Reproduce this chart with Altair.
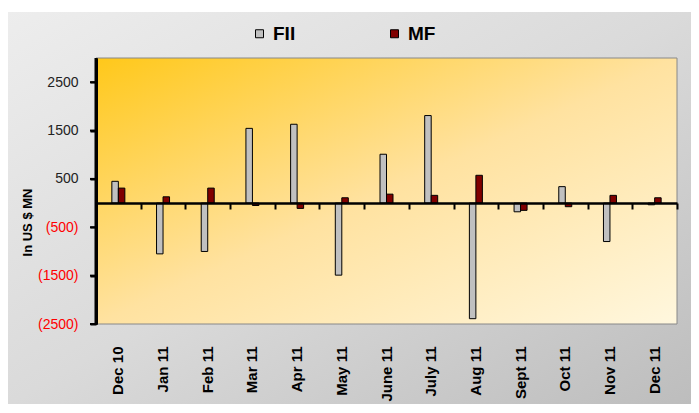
import altair as alt
import pandas as pd

months = ["Dec 10", "Jan 11", "Feb 11", "Mar 11", "Apr 11", "May 11", "June 11",
          "July 11", "Aug 11", "Sept 11", "Oct 11", "Nov 11", "Dec 11"]
fii = [450, -1050, -1000, 1545, 1630, -1490, 1010, 1810, -2390, -180, 340, -795, -35]
mf = [310, 130, 310, -50, -110, 110, 185, 160, 575, -150, -75, 160, 110]
series = ["FII", "MF"]
colors = ["#C0C0C0", "#800000"]
y_ticks = [-2500, -1500, -500, 500, 1500, 2500]
y_domain = [-2500, 3000]

rows = []
for m, a, b in zip(months, fii, mf):
    rows.append({"month": m, "series": "FII", "value": a})
    rows.append({"month": m, "series": "MF", "value": b})
df = pd.DataFrame(rows)
ticks_df = pd.DataFrame({"value": y_ticks})

W, H = 581, 266
FONT = "Liberation Sans"
zero_offset = -round(H * (0 - y_domain[0]) / (y_domain[1] - y_domain[0]))
band = W / len(months)
bar_w = 6.5

x_scale = alt.Scale(domain=months, paddingInner=0, paddingOuter=0)
y_scale = alt.Scale(domain=y_domain, nice=False, zero=False)

y_axis = alt.Axis(values=y_ticks,
                  labelExpr="datum.value < 0 ? '(' + format(-datum.value, 'd') + ')' : format(datum.value, 'd')",
                  labelColor={"condition": {"test": "datum.value < 0", "value": "#FF0000"}, "value": "#222222"},
                  labelFont=FONT, labelFontSize=14, labelPadding=12,
                  domain=True, ticks=True,
                  tickSize=6, tickColor="black", tickWidth=2,
                  domainColor="black", domainWidth=3, grid=False,
                  title="In US $ MN", titleFont=FONT, titleFontSize=13,
                  titleFontWeight="bold", titleColor="black", titleAngle=-90,
                  titleX=-69, titleY=164, titleAlign="center",
                  titleBaseline="middle", zindex=3, orient="left")

one = pd.DataFrame({"a": [0]})

outer_bg = alt.Chart(one).mark_rect(
    color=alt.LinearGradient(
        gradient="linear",
        stops=[alt.GradientStop(color="#EDEDED", offset=0),
               alt.GradientStop(color="#DADADA", offset=0.5),
               alt.GradientStop(color="#BDBDBD", offset=1)],
        x1=0, y1=0, x2=1, y2=1),
).encode(x=alt.value(-88), x2=alt.value(W + 14), y=alt.value(-46), y2=alt.value(H + 80))

plot_bg = alt.Chart(one).mark_rect(
    stroke="#888888", strokeWidth=1,
    color=alt.LinearGradient(
        gradient="linear",
        stops=[alt.GradientStop(color="#FFC81A", offset=0),
               alt.GradientStop(color="#FFE2A0", offset=0.5),
               alt.GradientStop(color="#FFF7DE", offset=1)],
        x1=0, y1=0, x2=1, y2=1),
).encode(x=alt.value(0), x2=alt.value(W), y=alt.value(0), y2=alt.value(H))

# y-axis line and tick marks drawn as solid black rectangles
y_line = alt.Chart(one).mark_rect(color="black", opacity=1).encode(
    x=alt.value(-1.5), x2=alt.value(1.5), y=alt.value(0), y2=alt.value(H + 1))
y_tick_marks = alt.Chart(ticks_df).mark_tick(
    color="black", orient="horizontal", thickness=2, size=6, xOffset=-3, opacity=1
).encode(
    y=alt.Y("value:Q", scale=y_scale, axis=y_axis),
    x=alt.value(0))

bars = alt.Chart(df).mark_bar(stroke="black", strokeWidth=1).encode(
    x=alt.X("month:N", scale=x_scale, sort=months,
            axis=alt.Axis(title=None, labelAngle=-90, labelAlign="right",
                          labelBaseline="middle", labelFont=FONT, labelFontSize=15,
                          labelFontWeight="bold", labelColor="black", labelPadding=22,
                          domain=False, ticks=False, zindex=1, orient="bottom")),
    xOffset=alt.XOffset("series:N", sort=series,
                        scale=alt.Scale(domain=series, paddingInner=0, paddingOuter=0,
                                        range=[band / 2 - bar_w, band / 2 + bar_w])),
    y=alt.Y("value:Q", scale=y_scale, axis=y_axis),
    color=alt.Color("series:N", scale=alt.Scale(domain=series, range=colors),
                    legend=alt.Legend(title=None, orient="none", legendX=154, legendY=-34,
                                      direction="horizontal", symbolType="square",
                                      symbolSize=64, symbolStrokeColor="black",
                                      symbolStrokeWidth=1, labelFont=FONT,
                                      labelFontSize=19, labelFontWeight="bold",
                                      labelColor="black", columnPadding=89,
                                      labelOffset=4)),
)

zero_axis = alt.Chart(df).mark_point(opacity=0).encode(
    x=alt.X("month:N", scale=x_scale, sort=months,
            axis=alt.Axis(title=None, labels=False, offset=zero_offset, orient="bottom",
                          tickBand="extent", tickSize=6, tickColor="black",
                          tickWidth=2, domainColor="black", domainWidth=2.5,
                          zindex=2)),
)

chart = alt.layer(outer_bg, plot_bg, bars, y_tick_marks, y_line, zero_axis).resolve_axis(
    x="independent"
).properties(
    width=W, height=H,
    padding={"left": 88, "top": 50, "right": 14, "bottom": 80},
    autosize=alt.AutoSizeParams(type="none"),
    background="white",
).configure_view(stroke=None)

chart.save("out.html", embed_options={"renderer": "svg", "actions": False})
